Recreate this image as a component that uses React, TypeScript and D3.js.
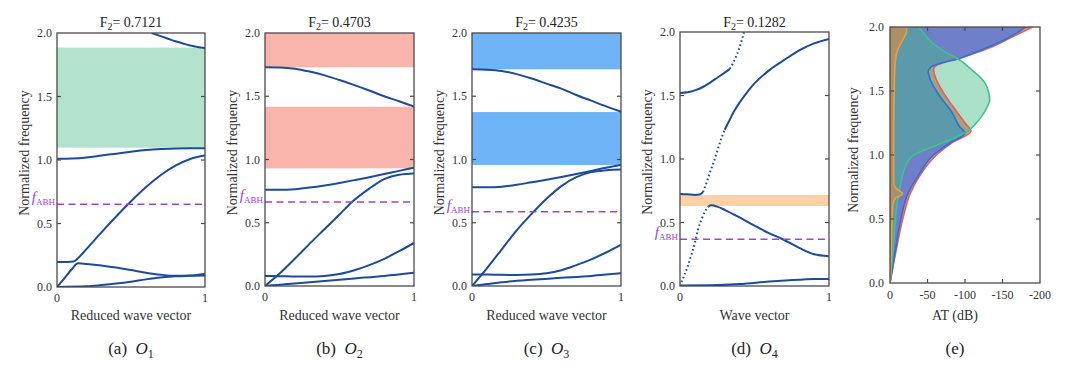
import React from 'react';
import * as d3 from 'd3';

type P = [number, number];

// ---------- data ----------
const freqTicks = [0, 0.5, 1.0, 1.5, 2.0];
const waveTicks = [0, 1];
const atTicks = [0, -50, -100, -150, -200];

const f2Values = ['0.7121', '0.4703', '0.4235', '0.1282'];
const fABH = [0.651, 0.664, 0.587, 0.368];

const gapsA: P[] = [[1.097, 1.885]];
const gapsB: P[] = [[0.93, 1.417], [1.729, 2.0]];
const gapsC: P[] = [[0.957, 1.375], [1.713, 2.0]];
const gapsD: P[] = [[0.63, 0.717]];

const curvesA: P[][] = [
  [[0.64, 2.0], [0.7, 1.975], [0.75, 1.955], [0.8, 1.935], [0.85, 1.918], [0.9, 1.902], [0.95, 1.89], [1, 1.882]],
  [[0, 1.01], [0.1, 1.012], [0.2, 1.02], [0.3, 1.035], [0.4, 1.05], [0.5, 1.065], [0.6, 1.078], [0.7, 1.086], [0.8, 1.09], [0.9, 1.092], [1, 1.093]],
  [[0, 0.197], [0.07, 0.197], [0.11, 0.2], [0.14, 0.225], [0.2, 0.3], [0.3, 0.43], [0.4, 0.555], [0.48, 0.651], [0.6, 0.785], [0.7, 0.88], [0.8, 0.955], [0.9, 1.008], [1, 1.035]],
  [[0, 0], [0.05, 0.068], [0.1, 0.14], [0.142, 0.187], [0.2, 0.182], [0.3, 0.17], [0.4, 0.153], [0.5, 0.133], [0.6, 0.113], [0.7, 0.097], [0.8, 0.088], [0.9, 0.09], [1, 0.105]],
  [[0, 0], [0.2, 0.005], [0.3, 0.015], [0.4, 0.027], [0.5, 0.042], [0.6, 0.06], [0.7, 0.075], [0.8, 0.085], [0.9, 0.088], [1, 0.09]],
];

const curvesB: P[][] = [
  [[0, 1.73], [0.1, 1.728], [0.2, 1.718], [0.3, 1.695], [0.4, 1.665], [0.5, 1.628], [0.6, 1.588], [0.7, 1.545], [0.8, 1.5], [0.9, 1.46], [1, 1.418]],
  [[0, 0.76], [0.1, 0.76], [0.2, 0.765], [0.3, 0.778], [0.4, 0.795], [0.5, 0.815], [0.6, 0.837], [0.7, 0.86], [0.8, 0.885], [0.9, 0.91], [1, 0.935]],
  [[0, 0], [0.1, 0.1], [0.2, 0.215], [0.3, 0.335], [0.4, 0.45], [0.5, 0.565], [0.58, 0.66], [0.7, 0.77], [0.8, 0.845], [0.9, 0.88], [1, 0.89]],
  [[0, 0.08], [0.1, 0.078], [0.2, 0.075], [0.3, 0.075], [0.4, 0.08], [0.5, 0.095], [0.6, 0.125], [0.7, 0.165], [0.8, 0.215], [0.9, 0.275], [1, 0.34]],
  [[0, 0], [0.1, 0.01], [0.2, 0.02], [0.4, 0.04], [0.6, 0.06], [0.8, 0.08], [1, 0.105]],
];

const curvesC: P[][] = [
  [[0, 1.713], [0.1, 1.71], [0.2, 1.7], [0.3, 1.675], [0.4, 1.64], [0.5, 1.6], [0.6, 1.56], [0.7, 1.51], [0.8, 1.465], [0.9, 1.42], [1, 1.378]],
  [[0, 0.78], [0.1, 0.78], [0.2, 0.785], [0.3, 0.8], [0.4, 0.82], [0.5, 0.84], [0.6, 0.862], [0.7, 0.885], [0.8, 0.91], [0.9, 0.935], [1, 0.957]],
  [[0, 0], [0.1, 0.14], [0.2, 0.29], [0.3, 0.44], [0.4, 0.57], [0.5, 0.69], [0.6, 0.79], [0.7, 0.86], [0.8, 0.9], [0.9, 0.915], [1, 0.92]],
  [[0, 0.09], [0.1, 0.09], [0.2, 0.088], [0.3, 0.087], [0.4, 0.09], [0.5, 0.1], [0.6, 0.125], [0.7, 0.165], [0.8, 0.21], [0.9, 0.265], [1, 0.325]],
  [[0, 0], [0.1, 0.015], [0.2, 0.03], [0.4, 0.05], [0.6, 0.065], [0.8, 0.08], [1, 0.1]],
];

const curvesDSolid: P[][] = [
  [[0, 1.52], [0.05, 1.525], [0.1, 1.54], [0.15, 1.565], [0.2, 1.6], [0.25, 1.64], [0.3, 1.68], [0.335, 1.71]],
  [[0, 0.725], [0.05, 0.722], [0.1, 0.717], [0.13, 0.72], [0.155, 0.74]],
  [[0.3, 1.23], [0.33, 1.3], [0.36, 1.37], [0.4, 1.445], [0.45, 1.525], [0.5, 1.595], [0.6, 1.7], [0.7, 1.78], [0.8, 1.855], [0.9, 1.91], [1, 1.945]],
  [[0.19, 0.625], [0.21, 0.635], [0.25, 0.625], [0.3, 0.6], [0.4, 0.54], [0.5, 0.475], [0.6, 0.415], [0.69, 0.368], [0.8, 0.3], [0.9, 0.25], [1, 0.235]],
  [[0, 0.003], [0.2, 0.005], [0.4, 0.015], [0.6, 0.035], [0.8, 0.05], [0.9, 0.055], [1, 0.055]],
];
const curvesDDotted: P[][] = [
  [[0.335, 1.71], [0.37, 1.79], [0.4, 1.88], [0.43, 2.0]],
  [[0.155, 0.74], [0.18, 0.82], [0.2, 0.89], [0.23, 0.99], [0.26, 1.1], [0.28, 1.17], [0.3, 1.23]],
  [[0.01, 0.03], [0.05, 0.15], [0.08, 0.26], [0.1, 0.34], [0.12, 0.44], [0.15, 0.54], [0.175, 0.6], [0.19, 0.625]],
];

// panel (e): [frequency, AT dB]
const atRed: P[] = [[0, 0], [0.25, -8], [0.5, -17], [0.7, -27], [0.86, -42], [1.0, -62], [1.1, -84], [1.185, -108], [1.25, -100], [1.33, -90], [1.48, -72], [1.6, -61], [1.67, -58], [1.7, -62], [1.73, -76], [1.78, -105], [1.85, -138], [1.92, -162], [2.0, -190]];
const atBlue: P[] = [[0, 0], [0.25, -7], [0.5, -14.5], [0.7, -24], [0.86, -40], [1.0, -58], [1.1, -82], [1.17, -100], [1.22, -93], [1.33, -83], [1.455, -67], [1.6, -53], [1.65, -51], [1.69, -55], [1.716, -67], [1.755, -93], [1.8, -113], [1.85, -134], [1.9, -153], [1.95, -168], [2.0, -181]];
const atGreen: P[] = [[0, 0], [0.2, -3], [0.4, -6], [0.6, -9], [0.7, -12], [0.8, -15], [0.9, -20], [0.96, -25], [1.0, -32], [1.03, -42], [1.06, -55], [1.1, -72], [1.15, -92], [1.18, -102], [1.25, -115], [1.3, -122], [1.38, -130], [1.43, -133], [1.5, -131], [1.56, -127], [1.62, -118], [1.68, -106], [1.73, -96], [1.76, -88], [1.8, -75], [1.85, -62], [1.9, -52], [1.95, -45], [2.0, -38]];
const atOrange: P[] = [[0, 0], [0.1, -1], [0.3, -2], [0.5, -3], [0.62, -4], [0.66, -7], [0.68, -13], [0.7, -17], [0.71, -15], [0.74, -8], [0.78, -5], [0.9, -5], [1.2, -5], [1.6, -6], [1.72, -7], [1.8, -9], [1.87, -14], [1.92, -19], [1.96, -22], [2.0, -22]];

// ---------- layout ----------
const FONT = '"Liberation Serif", "DejaVu Serif", "Times New Roman", serif';
const LINE = '#1c4b9a';
const PURPLE = '#9b45d8';
const AXIS = '#4a4a4a';
const TXT = '#333';

type Panel = {
  x0: number; x1: number; y0: number; y1: number;
  gaps: P[]; gapColor: string; solid: P[][]; dotted: P[][];
  fabh: number; title: string; xlabel: string; cap: string; sub: string;
};

const panels: Panel[] = [
  { x0: 57, x1: 205, y0: 33, y1: 287, gaps: gapsA, gapColor: '#b3e2cd', solid: curvesA, dotted: [], fabh: fABH[0], title: f2Values[0], xlabel: 'Reduced wave vector', cap: '(a)', sub: '1' },
  { x0: 265, x1: 414, y0: 33, y1: 286, gaps: gapsB, gapColor: '#f9b4ab', solid: curvesB, dotted: [], fabh: fABH[1], title: f2Values[1], xlabel: 'Reduced wave vector', cap: '(b)', sub: '2' },
  { x0: 472, x1: 621, y0: 33, y1: 286, gaps: gapsC, gapColor: '#6fb4f7', solid: curvesC, dotted: [], fabh: fABH[2], title: f2Values[2], xlabel: 'Reduced wave vector', cap: '(c)', sub: '3' },
  { x0: 680, x1: 829, y0: 32, y1: 286, gaps: gapsD, gapColor: '#fdd0a6', solid: curvesDSolid, dotted: curvesDDotted, fabh: fABH[3], title: f2Values[3], xlabel: 'Wave vector', cap: '(d)', sub: '4' },
];

const textStyle = { fontFamily: FONT };

function BandPanel({ p, i }: { p: Panel; i: number }) {
  const xs = d3.scaleLinear().domain([0, 1]).range([p.x0, p.x1]);
  const ys = d3.scaleLinear().domain([0, 2]).range([p.y1, p.y0]);
  const line = d3.line<P>().x(d => xs(d[0])).y(d => ys(d[1])).curve(d3.curveMonotoneX);
  const cx = (p.x0 + p.x1) / 2;
  const cid = `clip${i}`;
  return (
    <g>
      <clipPath id={cid}><rect x={p.x0} y={p.y0} width={p.x1 - p.x0} height={p.y1 - p.y0} /></clipPath>
      {p.gaps.map((g, k) => (
        <rect key={k} x={p.x0} y={ys(g[1])} width={p.x1 - p.x0} height={ys(g[0]) - ys(g[1])} fill={p.gapColor} />
      ))}
      <g clipPath={`url(#${cid})`}>
        {p.solid.map((c, k) => (
          <path key={k} d={line(c) || ''} fill="none" stroke={LINE} strokeWidth={2} />
        ))}
        {p.dotted.map((c, k) => (
          <path key={'d' + k} d={line(c) || ''} fill="none" stroke={LINE} strokeWidth={2} strokeDasharray="1.6 2.6" />
        ))}
      </g>
      <line x1={p.x0} x2={p.x1} y1={ys(p.fabh)} y2={ys(p.fabh)} stroke={PURPLE} strokeWidth={1.4} strokeDasharray="7 4.5" />
      <rect x={p.x0} y={p.y0} width={p.x1 - p.x0} height={p.y1 - p.y0} fill="none" stroke={AXIS} strokeWidth={1.3} />
      {freqTicks.map(t => (
        <g key={t}>
          {t > 0 && t < 2 && <line x1={p.x0} x2={p.x0 + 4} y1={ys(t)} y2={ys(t)} stroke={AXIS} strokeWidth={1.2} />}
          {t > 0 && t < 2 && <line x1={p.x1} x2={p.x1 - 4} y1={ys(t)} y2={ys(t)} stroke={AXIS} strokeWidth={1.2} />}
          <text style={textStyle} x={p.x0 - 5} y={ys(t)} dy="0.35em" textAnchor="end" fontSize={12} fill={TXT}>{t.toFixed(1)}</text>
        </g>
      ))}
      {waveTicks.map(t => (
        <text style={textStyle} key={t} x={xs(t)} y={p.y1 + 15} textAnchor="middle" fontSize={12} fill={TXT}>{t}</text>
      ))}
      <text style={textStyle} x={p.x0 - 2} y={ys(p.fabh) - 2} textAnchor="end" fill={PURPLE} fontSize={15}>
        <tspan fontStyle="italic">f</tspan><tspan fontSize={9} dy={3}>ABH</tspan>
      </text>
      <text style={textStyle} transform={`translate(${p.x0 - 28},${(p.y0 + p.y1) / 2 - 7}) rotate(-90)`} textAnchor="middle" fontSize={14} fill={TXT}>Normalized frequency</text>
      <text style={textStyle} x={cx} y={27} textAnchor="middle" fontSize={14} fill="#222">
        F<tspan fontSize={10} dy={3}>2</tspan><tspan dy={-3}>= {p.title}</tspan>
      </text>
      <text style={textStyle} x={cx} y={320} textAnchor="middle" fontSize={14} fill={TXT}>{p.xlabel}</text>
      <text style={textStyle} x={cx} y={354} textAnchor="middle" fontSize={17} fill="#222">
        {p.cap}{'\u00a0\u00a0'}<tspan fontStyle="italic">O</tspan><tspan fontSize={12} dy={4}>{p.sub}</tspan>
      </text>
    </g>
  );
}

function ATPanel() {
  const x0 = 890, x1 = 1040, y0 = 27, y1 = 283;
  const xs = d3.scaleLinear().domain([0, -200]).range([x0, x1]);
  const ys = d3.scaleLinear().domain([0, 2]).range([y1, y0]);
  const area = d3.area<P>().y(d => ys(d[0])).x0(xs(0)).x1(d => xs(d[1])).curve(d3.curveMonotoneY);
  const line = d3.line<P>().y(d => ys(d[0])).x(d => xs(d[1])).curve(d3.curveMonotoneY);
  const series = [
    { data: atRed, fill: '#f0665c', op: 0.75, stroke: '#f25a52' },
    { data: atBlue, fill: '#6f7fc9', op: 1, stroke: '#2276e0' },
    { data: atGreen, fill: '#43bd85', op: 0.45, stroke: '#3dc48a' },
    { data: atOrange, fill: '#f08a2e', op: 0.55, stroke: '#f59a3a' },
  ];
  const cx = (x0 + x1) / 2;
  return (
    <g>
      <clipPath id="clipE"><rect x={x0} y={y0} width={x1 - x0} height={y1 - y0} /></clipPath>
      <g clipPath="url(#clipE)">
        {series.map((s, k) => (
          <path key={'a' + k} d={area(s.data) || ''} fill={s.fill} fillOpacity={s.op} />
        ))}
        {series.map((s, k) => (
          <path key={'l' + k} d={line(s.data) || ''} fill="none" stroke={s.stroke} strokeWidth={1.6} />
        ))}
      </g>
      <rect x={x0} y={y0} width={x1 - x0} height={y1 - y0} fill="none" stroke={AXIS} strokeWidth={1.3} />
      {freqTicks.map(t => (
        <g key={t}>
          {t > 0 && t < 2 && <line x1={x0} x2={x0 + 4} y1={ys(t)} y2={ys(t)} stroke={AXIS} strokeWidth={1.2} />}
          {t > 0 && t < 2 && <line x1={x1} x2={x1 - 4} y1={ys(t)} y2={ys(t)} stroke={AXIS} strokeWidth={1.2} />}
          <text style={textStyle} x={x0 - 6} y={ys(t)} dy="0.35em" textAnchor="end" fontSize={12} fill={TXT}>{t.toFixed(1)}</text>
        </g>
      ))}
      {atTicks.map(t => (
        <g key={t}>
          {t < 0 && t > -200 && <line x1={xs(t)} x2={xs(t)} y1={y1} y2={y1 - 4} stroke={AXIS} strokeWidth={1.2} />}
          {t < 0 && t > -200 && <line x1={xs(t)} x2={xs(t)} y1={y0} y2={y0 + 4} stroke={AXIS} strokeWidth={1.2} />}
          <text style={textStyle} x={xs(t)} y={y1 + 16} textAnchor="middle" fontSize={12} fill={TXT}>{t}</text>
        </g>
      ))}
      <text style={textStyle} transform={`translate(${x0 - 32},${(y0 + y1) / 2 - 5}) rotate(-90)`} textAnchor="middle" fontSize={14} fill={TXT}>Normalized frequency</text>
      <text style={textStyle} x={cx - 10} y={320} textAnchor="middle" fontSize={14} fill={TXT}>AT (dB)</text>
      <text style={textStyle} x={cx - 10} y={354} textAnchor="middle" fontSize={17} fill="#222">(e)</text>
    </g>
  );
}

export default function App() {
  return (
    <svg width={1080} height={370} style={{ position: 'absolute', left: 0, top: 0, background: '#fff', fontFamily: FONT }}>
      <rect width={1080} height={370} fill="#fff" />
      {panels.map((p, i) => <BandPanel key={i} p={p} i={i} />)}
      <ATPanel />
    </svg>
  );
}
